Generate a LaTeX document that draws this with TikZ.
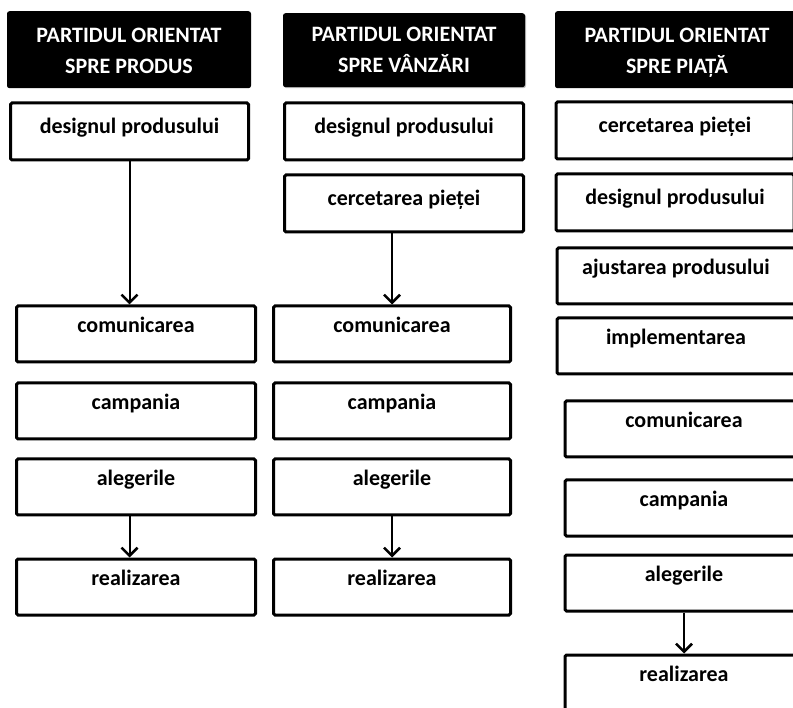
\documentclass[tikz,border=0pt]{standalone}
\usepackage{fontspec}
\setmainfont{Carlito}
\usetikzlibrary{arrows.meta,shadows}
\begin{document}
\begin{tikzpicture}[x=1pt,y=-1pt,
  hdr/.style={fill=black, text=white, rounded corners=2.5pt, inner sep=0pt, anchor=north, align=center, font=\fontsize{22}{31}\selectfont\bfseries, text height=62pt, text depth=15pt},
  bx/.style={draw=black, line width=3pt, rounded corners=1.5pt, inner sep=0pt, anchor=north, font=\fontsize{22}{26}\selectfont\bfseries, text height=26.5pt, text depth=29.5pt},
  bxtop/.style={bx, text height=30.5pt, text depth=26.5pt},
  arr/.style={line width=2pt, -{Straight Barb[length=8pt,width=16pt,line width=2.5pt]}}
]
\useasboundingbox (0,0) rectangle (793,708);
\clip (0,0) rectangle (793,708);

% column 1
\node[hdr, minimum width=244pt] (h1) at (129,11) {PARTIDUL ORIENTAT\\SPRE PRODUS};
\node[bxtop, minimum width=238pt] (a1) at (129.5,101.5) {designul produsului};
\node[bx, minimum width=239pt] (a2) at (136,304.5) {comunicarea};
\node[bx, minimum width=239pt] (a3) at (136,381.5) {campania};
\node[bx, minimum width=239pt] (a4) at (136,457.5) {alegerile};
\node[bx, minimum width=239pt] (a5) at (136,557.5) {realizarea};
\draw[arr] (a1.south) -- (a1.south |- a2.north);
\draw[arr] (a4.south -| a1.south) -- (a1.south |- a5.north);

% column 2
\node[hdr, minimum width=242pt, text height=59pt, text depth=15pt, drop shadow={shadow xshift=1pt, shadow yshift=-1pt, fill=gray, opacity=0.5}] (h2) at (404,13) {PARTIDUL ORIENTAT\\SPRE VÂNZĂRI};
\node[bxtop, minimum width=239pt] (b1) at (404,101.5) {designul produsului};
\node[bxtop, minimum width=239pt] (b2) at (404,173.5) {cercetarea pieței};
\node[bx, minimum width=237pt] (b3) at (392,304.5) {comunicarea};
\node[bx, minimum width=237pt] (b4) at (392,381.5) {campania};
\node[bx, minimum width=237pt] (b5) at (392,457.5) {alegerile};
\node[bx, minimum width=237pt] (b6) at (392,557.5) {realizarea};
\draw[arr] (b2.south -| b3.north) -- (b3.north);
\draw[arr] (b5.south) -- (b6.north);

% column 3
\node[hdr, minimum width=244pt] (h3) at (677,11) {PARTIDUL ORIENTAT\\SPRE PIAȚĂ};
\node[bxtop, minimum width=238pt] (c1) at (675,100.5) {cercetarea pieței};
\node[bxtop, minimum width=238pt] (c2) at (675,172.5) {designul produsului};
\node[bx, minimum width=238pt] (c3) at (676,246.5) {ajustarea produsului};
\node[bx, minimum width=238pt] (c4) at (676,316.5) {implementarea};
\node[bx, minimum width=238pt] (c5) at (684,399.5) {comunicarea};
\node[bx, minimum width=238pt] (c6) at (684,478.5) {campania};
\node[bx, minimum width=238pt] (c7) at (684,553.5) {alegerile};
\node[bx, minimum width=238pt] (c8) at (684,653.5) {realizarea};
\draw[arr] (c7.south) -- (c8.north);
\end{tikzpicture}
\end{document}
